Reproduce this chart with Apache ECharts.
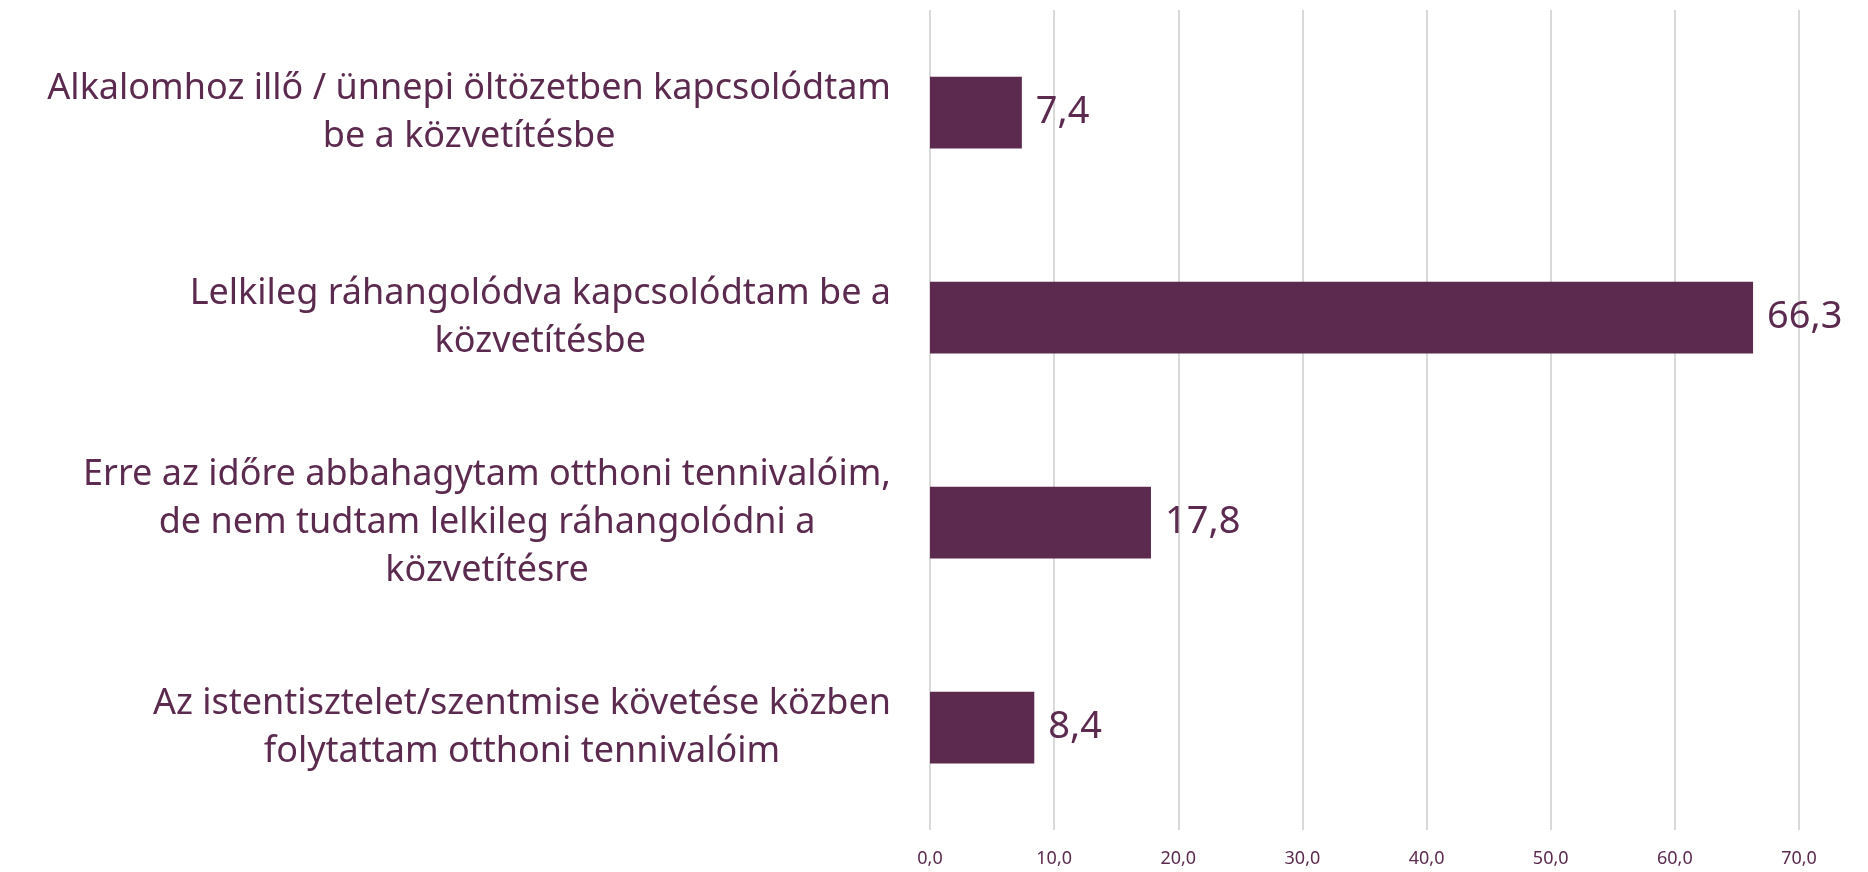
<!DOCTYPE html>
<html>
<head>
<meta charset="utf-8">
<script src="https://cdn.jsdelivr.net/npm/echarts@6/dist/echarts.min.js"></script>
<style>
html, body { margin: 0; padding: 0; background: #fff; }
#main { width: 1868px; height: 872px; }
</style>
</head>
<body>
<div id="main"></div>
<script>
// kategóriák (fentről lefelé)
var categories = [
	'Alkalomhoz illő / ünnepi öltözetben kapcsolódtam\nbe a közvetítésbe',
	'Lelkileg ráhangolódva kapcsolódtam be a\nközvetítésbe',
	'Erre az időre abbahagytam otthoni tennivalóim,\nde nem tudtam lelkileg ráhangolódni a\nközvetítésre',
	'Az istentisztelet/szentmise követése közben\nfolytattam otthoni tennivalóim'
];
var values = [7.4, 66.3, 17.8, 8.4];
var xTicks = [0, 10, 20, 30, 40, 50, 60, 70];

var color = '#5c2a4f';
var font = '"Noto Sans", sans-serif';

function hu(v) {
	return v.toFixed(1).replace('.', ',');
}

var myChart = echarts.init(document.getElementById('main'));
var option = {
	animation: false,
	grid: {
		left: 930,
		right: 69,
		top: 10,
		bottom: 42
	},
	xAxis: {
		type: 'value',
		min: xTicks[0],
		max: xTicks[xTicks.length - 1],
		interval: 10,
		axisLine: { show: false },
		axisTick: { show: false },
		splitLine: { lineStyle: { color: '#d9d9d9', width: 2 } },
		axisLabel: {
			color: color,
			fontFamily: font,
			fontSize: 18,
			margin: 20,
			formatter: hu
		}
	},
	yAxis: {
		type: 'category',
		inverse: true,
		data: categories,
		axisLine: { show: false },
		axisTick: { show: false },
		axisLabel: {
			align: 'right',
			margin: 39,
			// sorok középre zárva, a blokk jobbra
			formatter: function (v) {
				return v.split('\n').map(function (s) { return '{c|' + s + '}'; }).join('\n');
			},
			rich: {
				c: {
					align: 'center',
					color: color,
					fontFamily: font,
					fontSize: 36,
					lineHeight: 48
				}
			}
		}
	},
	series: [{
		type: 'bar',
		data: values,
		barWidth: '35%',
		itemStyle: { color: color },
		label: {
			show: true,
			position: 'right',
			distance: 14,
			color: color,
			fontFamily: font,
			fontSize: 38,
			formatter: function (p) { return hu(p.value); }
		}
	}]
};
myChart.setOption(option);
</script>
</body>
</html>
